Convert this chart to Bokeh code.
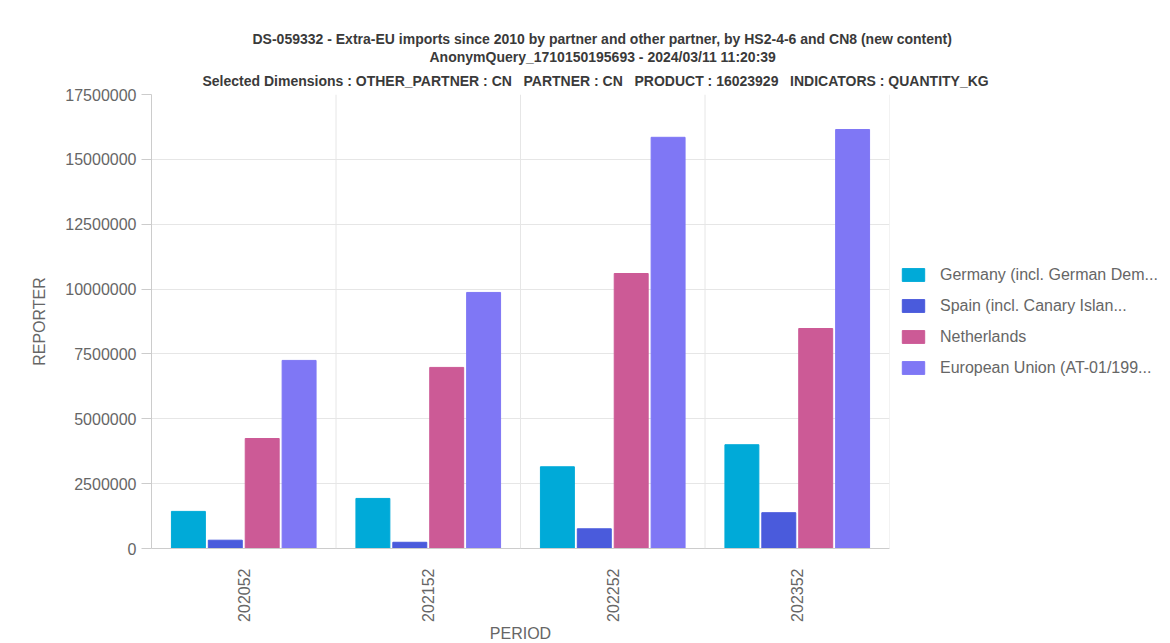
from bokeh.plotting import figure
from bokeh.models import (FactorRange, Range1d, Legend, LegendItem, Span, Title,
                          SingleIntervalTicker, NumeralTickFormatter, ColumnDataSource)
from bokeh.transform import dodge
from bokeh.embed import file_html
from bokeh.resources import INLINE

# ---- data ----
periods = ["202052", "202152", "202252", "202352"]
series_names = ["Germany (incl. German Dem...", "Spain (incl. Canary Islan...",
                "Netherlands", "European Union (AT-01/199..."]
germany = [1430000, 1930000, 3150000, 4000000]
spain = [320000, 240000, 760000, 1380000]
netherlands = [4240000, 6980000, 10600000, 8480000]
eu = [7250000, 9870000, 15850000, 16150000]
colors = ["#00AAD8", "#4A5BDC", "#CC5A96", "#7F77F5"]
NB = "\u00a0"
title_lines = [
    "DS-059332 - Extra-EU imports since 2010 by partner and other partner, by HS2-4-6 and CN8 (new content)",
    "AnonymQuery_1710150195693 - 2024/03/11 11:20:39",
    f"Selected Dimensions : OTHER_PARTNER : CN{NB}{NB} PARTNER : CN{NB}{NB} PRODUCT : 16023929{NB}{NB} INDICATORS : QUANTITY_KG",
]
y_max = 17500000
y_step = 2500000

FONT = "Liberation Sans"
GRAY = "#666666"

source = ColumnDataSource(dict(period=periods, germany=germany, spain=spain,
                               netherlands=netherlands, eu=eu))

p = figure(frame_width=738, frame_height=454, output_backend="svg", toolbar_location=None,
           x_range=FactorRange(factors=periods, range_padding=0.0),
           y_range=Range1d(0, y_max),
           min_border_left=151, min_border_right=0, min_border_top=94, min_border_bottom=86)
p.outline_line_color = None
p.background_fill_color = "white"
p.border_fill_color = "white"

cols = ["germany", "spain", "netherlands", "eu"]
offsets = [-0.30, -0.10, 0.10, 0.30]
renderers = []
for col, off, c in zip(cols, offsets, colors):
    r = p.vbar(x=dodge("period", off, range=p.x_range), top=col, width=0.184,
               source=source, fill_color=c, line_color=c, line_width=1)
    renderers.append(r)

# grids
p.xgrid.grid_line_color = None
p.ygrid.grid_line_color = "#e6e6e6"
p.ygrid.grid_line_width = 1
for i in range(1, len(periods) + 1):
    p.add_layout(Span(location=i, dimension="height", line_color="#e6e6e6", line_width=1))

# y axis
yax = p.yaxis[0]
yax.ticker = SingleIntervalTicker(interval=y_step)
yax.formatter = NumeralTickFormatter(format="0")
yax.axis_label = "REPORTER"
yax.axis_label_text_font = FONT
yax.axis_label_text_font_style = "normal"
yax.axis_label_text_font_size = "16px"
yax.axis_label_text_color = GRAY
yax.axis_label_standoff = 14
yax.major_label_text_font = FONT
yax.major_label_text_font_size = "16px"
yax.major_label_text_color = GRAY
yax.major_label_standoff = 5
yax.axis_line_color = "#cccccc"
yax.major_tick_line_color = "#cccccc"
yax.major_tick_in = 0
yax.major_tick_out = 10
yax.minor_tick_line_color = None

# x axis
xax = p.xaxis[0]
xax.axis_label = "PERIOD"
xax.axis_label_text_font = FONT
xax.axis_label_text_font_style = "normal"
xax.axis_label_text_font_size = "16px"
xax.axis_label_text_color = GRAY
xax.axis_label_standoff = 0
xax.major_label_text_font = FONT
xax.major_label_text_font_size = "16px"
xax.major_label_text_color = GRAY
xax.major_label_orientation = 1.5708
xax.major_label_standoff = 14
xax.axis_line_color = "#cccccc"
xax.major_tick_line_color = None

# title lines (added from the frame outwards)
title_offsets = [101, 278, 51]
title_standoffs = [0, 0, 12]
for txt, off, so in reversed(list(zip(title_lines, title_offsets, title_standoffs))):
    p.add_layout(Title(text=txt, align="left", offset=off, standoff=so,
                       text_font=FONT, text_font_style="bold", text_font_size="14px",
                       text_color="#3a3a3a"), "above")

# legend
legend = Legend(items=[LegendItem(label=n, renderers=[r]) for n, r in zip(series_names, renderers)],
                location="center_left", margin=10, glyph_width=28, glyph_height=16, label_standoff=13,
                spacing=11, padding=0, border_line_color=None, background_fill_alpha=0,
                label_text_font=FONT, label_text_font_size="16px", label_text_color=GRAY,
                label_height=20)
p.add_layout(legend, "right")

open("out.html", "w").write(file_html(p, INLINE))
